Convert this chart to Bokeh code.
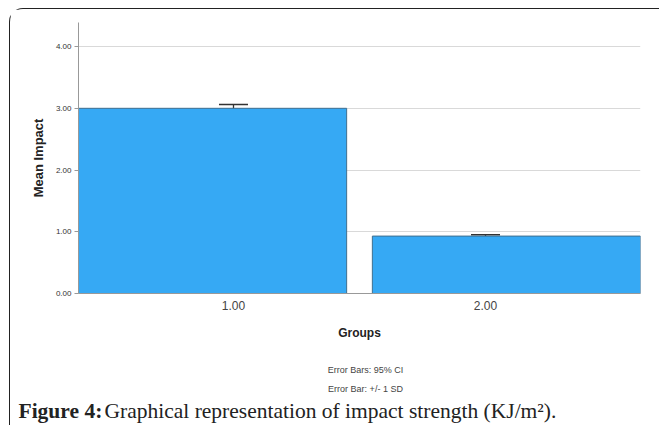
from bokeh.plotting import figure
from bokeh.layouts import column, row
from bokeh.models import (ColumnDataSource, FactorRange, Range1d, Whisker, TeeHead,
                          FixedTicker, NumeralTickFormatter)
from bokeh.core.properties import value
from bokeh.embed import file_html
from bokeh.resources import INLINE

# ---- data ----
groups = ["1.00", "2.00"]
mean_impact = [3.00, 0.93]
ci_lower = [2.94, 0.91]
ci_upper = [3.06, 0.95]
y_ticks = [0, 1, 2, 3, 4]

notes = ["Error Bars: 95% CI", "Error Bar: +/- 1 SD"]
caption_bold = "Figure 4:"
caption_text = "Graphical representation of impact strength (KJ/m²)."

# layout-only shift of the bars relative to the category centre (as in the SPSS export)
bar_shift = [-0.083, 0.083]

src = ColumnDataSource(dict(
    groups=groups,
    bar_x=[(g, s) for g, s in zip(groups, bar_shift)],
    mean=mean_impact,
    lower=ci_lower,
    upper=ci_upper,
))

FONT = "Liberation Sans"
W = 649

p = figure(
    width=W, height=346,
    x_range=FactorRange(*groups, range_padding=0.115, range_padding_units="absolute"),
    y_range=Range1d(0, 4.39),
    output_backend="svg", toolbar_location=None,
    min_border_left=68, min_border_right=19, min_border_top=13, min_border_bottom=62,
)
p.outline_line_color = None
p.border_fill_color = "white"

p.vbar(x="bar_x", top="mean", bottom=0, width=1.064, source=src,
       fill_color="#36a9f4", line_color="#3f6f8f", line_width=1)

w = Whisker(base="groups", upper="upper", lower="lower", source=src, dimension="height",
            line_color="#333333", line_width=1.3,
            upper_head=TeeHead(size=29, line_color="#333333", line_width=1.5),
            lower_head=TeeHead(size=29, line_color="#2a4f6a", line_width=1.5))
p.add_layout(w)

# grid
p.xgrid.grid_line_color = None
p.ygrid.grid_line_color = "#d9d9d9"
p.ygrid.grid_line_width = 1.2
p.ygrid.ticker = FixedTicker(ticks=y_ticks)

# y axis
p.yaxis.ticker = FixedTicker(ticks=y_ticks)
p.yaxis.formatter = NumeralTickFormatter(format="0.00")
p.yaxis.axis_label = "Mean Impact"
p.yaxis.axis_label_text_font = FONT
p.yaxis.axis_label_text_font_style = "bold"
p.yaxis.axis_label_text_font_size = "13px"
p.yaxis.axis_label_text_color = "#222222"
p.yaxis.axis_label_standoff = 7
p.yaxis.major_label_text_font = FONT
p.yaxis.major_label_text_font_size = "8px"
p.yaxis.major_label_text_color = "#333333"
p.yaxis.major_label_standoff = 3
p.yaxis.axis_line_color = "#999999"
p.yaxis.major_tick_line_color = "#999999"
p.yaxis.major_tick_out = 4
p.yaxis.major_tick_in = 0
p.yaxis.minor_tick_line_color = None

# x axis
p.xaxis.axis_label = "Groups"
p.xaxis.axis_label_text_font = FONT
p.xaxis.axis_label_text_font_style = "bold"
p.xaxis.axis_label_text_font_size = "12px"
p.xaxis.axis_label_text_color = "#222222"
p.xaxis.axis_label_standoff = 13
p.xaxis.major_label_text_font = FONT
p.xaxis.major_label_text_font_size = "12px"
p.xaxis.major_label_text_color = "#444444"
p.xaxis.major_label_standoff = 1
p.xaxis.axis_line_color = "#999999"
p.xaxis.major_tick_line_color = None

# ---- notes + caption strip (pixel-like coordinates, y measured from top) ----
H2 = 70
q = figure(width=W, height=H2, x_range=Range1d(0, W), y_range=Range1d(H2, 0),
           x_axis_type=None, y_axis_type=None, output_backend="svg", toolbar_location=None,
           min_border=0)
q.outline_line_color = None
q.border_fill_color = "white"

q.text(x=[355, 355], y=[14, 33], text=notes, text_font=value(FONT),
       text_font_size="9px", text_color="#444444", text_align="center",
       text_baseline="middle")
q.text(x=[8], y=[55], text=[caption_bold], text_font=value("Liberation Serif"),
       text_font_style="bold", text_font_size="21.5px", text_color="#222222",
       text_align="left", text_baseline="middle")
q.text(x=[94], y=[55], text=[caption_text], text_font=value("Liberation Serif"),
       text_font_size="21.5px", text_color="#222222",
       text_align="left", text_baseline="middle")

layout = column(p, row(q), margin=(8, 0, 0, 9),
                styles={"border-top": "1px solid #222", "border-left": "1px solid #222",
                        "border-top-left-radius": "14px", "background": "white"})

open("out.html", "w").write(file_html(layout, INLINE))
